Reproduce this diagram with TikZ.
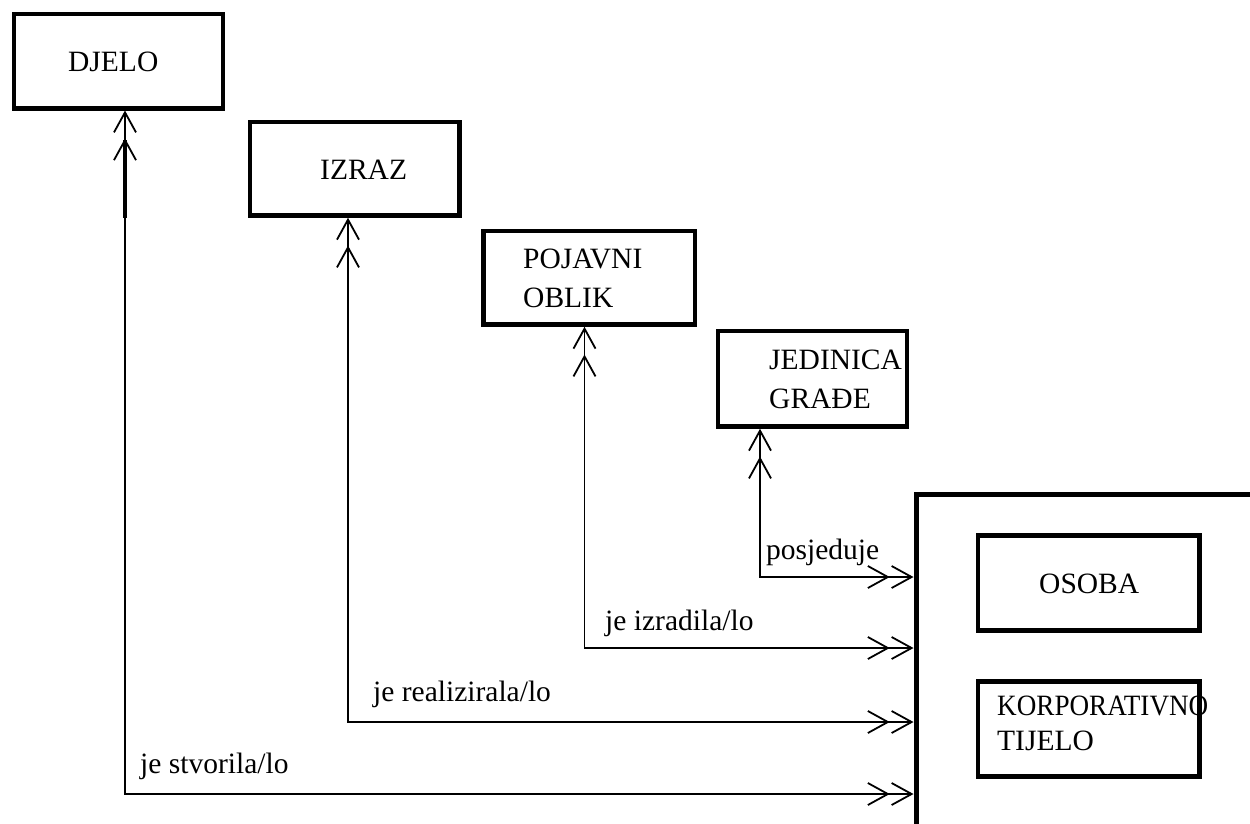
\documentclass[tikz,border=0pt]{standalone}
\usepackage{fontspec}
\setmainfont{Liberation Serif}
\usetikzlibrary{arrows.meta}
\tikzset{
  box/.style={draw, line width=4.5pt, inner sep=0pt},
  bigbox/.style={draw, line width=5pt, inner sep=0pt, anchor=north west, minimum width=500pt, minimum height=500pt},
  txt/.style={inner sep=0pt, anchor=base west, font=\fontsize{29.5}{39}\selectfont, align=left},
  conn/.style={line width=1.8pt,
    arrows={Straight Barb[length=20pt,width=22pt,sep=0pt] Straight Barb[length=20pt,width=22pt,sep=5pt]-Straight Barb[length=20pt,width=22pt,sep=1pt] Straight Barb[length=20pt,width=22pt,sep=0pt]}},
}
\begin{document}
\begin{tikzpicture}[x=1pt,y=-1pt]
\useasboundingbox (0,0) rectangle (1250,823);
% boxes
\node[box, minimum width=209pt, minimum height=94.5pt] (djelo) at (118.5,61) {};
\node[box, minimum width=209.5pt, minimum height=93.5pt] (izraz) at (354.75,168.75) {};
\node[box, minimum width=211.5pt, minimum height=93.5pt] (pojavni) at (589,277.75) {};
\node[box, minimum width=189pt, minimum height=95.5pt] (jedinica) at (812.5,378.75) {};
\node[bigbox] (agent) at (913.5,491.5) {};
\node[box, minimum width=221.5pt, minimum height=95pt] (osoba) at (1088.75,583) {};
\node[box, minimum width=221.5pt, minimum height=95pt] (korp) at (1088.75,729) {};
% box texts (base anchor = baseline of last line)
\node[txt] (djelo-t) at (68,71) {DJELO};
\node[txt] (izraz-t) at (320,179) {IZRAZ};
\node[txt] (pojavni-t) at (523,307) {POJAVNI\\OBLIK};
\node[txt] (jedinica-t) at (769,408) {JEDINICA\\GRAĐE};
\node[txt] (osoba-t) at (1039,593) {OSOBA};
\node[txt, font=\fontsize{29.5}{35}\selectfont] (korp-t) at (997,750) {\scalebox{0.92}[1]{KORPORATIVNO}\\TIJELO};
% corner coordinates
\coordinate (c1) at (125,794);
\coordinate (c2) at (348,722);
\coordinate (c3) at (584.5,648);
\coordinate (c4) at (760,577);
% connectors
\draw[line width=3.5pt] (125,140) -- (125,218);
\draw[conn] (djelo.south -| c1) -- (c1) -- (agent.west |- c1);
\draw[conn] (izraz.south -| c2) -- (c2) -- (agent.west |- c2);
\draw[conn] (pojavni.south -| c3) -- (c3) -- (agent.west |- c3);
\draw[conn] (jedinica.south -| c4) -- (c4) -- (agent.west |- c4);
% connector labels
\node[txt] (l1) at (140,773) {je stvorila/lo};
\node[txt] (l2) at (373,701) {je realizirala/lo};
\node[txt] (l3) at (605,630) {je izradila/lo};
\node[txt] (l4) at (766,559) {posjeduje};
\end{tikzpicture}
\end{document}
